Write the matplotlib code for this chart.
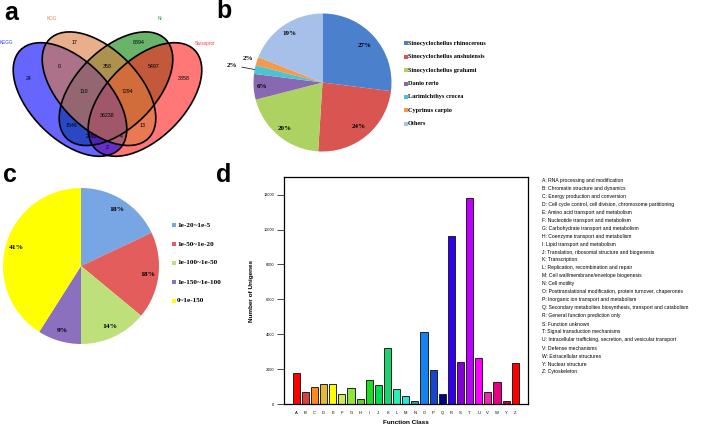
import numpy as np
import matplotlib.pyplot as plt
from matplotlib.patches import Ellipse

W, H = 709, 428

# ---- panel a: Venn of annotation databases
venn_sets = ['KEGG', 'KOG', 'Nr', 'Swissprot']
venn_set_colors = ['#3333ff', '#d98a55', '#2e9a2e', '#ff3333']
venn_fill = ['#0000ff', '#da7b3c', '#078207', '#ff1c1c']
# region membership (KEGG, KOG, Nr, Swissprot) and counts
venn_regions = [(1, 0, 0, 0), (0, 1, 0, 0), (0, 0, 1, 0), (0, 0, 0, 1),
                (1, 1, 0, 0), (0, 1, 1, 0), (0, 0, 1, 1), (1, 1, 1, 0),
                (0, 1, 1, 1), (1, 1, 1, 1), (1, 0, 1, 0), (0, 1, 0, 1),
                (1, 0, 1, 1), (1, 1, 0, 1), (1, 0, 0, 1)]
venn_counts = [24, 17, 8894, 3858, 0, 358, 5497, 110, 7294, 36238, 1546, 13, 2492, 4, 2]

# ---- panel b: species distribution
b_species = ['Sinocyclocheilus rhinocerous', 'Sinocyclocheilus anshuiensis',
             'Sinocyclocheilus grahami', 'Danio rerio', 'Larimichthys crocea',
             'Cyprinus carpio', 'Others']
b_pct = [27, 24, 20, 6, 2, 2, 19]
b_colors = ['#4a80cc', '#d95552', '#aed262', '#8868b0', '#4cc3d3', '#f29a4e', '#a7c0ea']

# ---- panel c: E-value distribution
c_bins = ['1e-20~1e-5', '1e-50~1e-20', '1e-100~1e-50', '1e-150~1e-100', '0~1e-150']
c_pct = [18, 18, 14, 9, 41]
c_colors = ['#78a6e4', '#e25d5b', '#bde07a', '#8a70be', '#ffff00']

# ---- panel d: KOG function classes
cog_classes = list('ABCDEFGHIJKLMNOPQRSTUVWYZ')
cog_counts = [1800, 670, 995, 1130, 1165, 575, 937, 287, 1360, 1072, 3196, 842, 459,
              153, 4114, 1933, 593, 9650, 2411, 11840, 2621, 670, 1282, 153, 2373]
cog_colors = ['#ff0000', '#d94040', '#ff8a1a', '#e6b933', '#ffff00', '#c8f046', '#8ce63c',
              '#5ad232', '#1edc1e', '#00dc50', '#1ed26e', '#28f0b4', '#28e6dc', '#1ea0be',
              '#1482f0', '#1446d2', '#000082', '#3200f0', '#8200d2', '#be00ff', '#ff00ff',
              '#f028aa', '#e60082', '#c8003c', '#ff0000']
cog_desc = ['RNA processing and modification',
            'Chromatin structure and dynamics',
            'Energy production and conversion',
            'Cell cycle control, cell division, chromosome partitioning',
            'Amino acid transport and metabolism',
            'Nucleotide transport and metabolism',
            'Carbohydrate transport and metabolism',
            'Coenzyme transport and metabolism',
            'Lipid transport and metabolism',
            'Translation, ribosomal structure and biogenesis',
            'Transcription',
            'Replication, recombination and repair',
            'Cell wall/membrane/envelope biogenesis',
            'Cell motility',
            'Posttranslational modification, protein turnover, chaperones',
            'Inorganic ion transport and metabolism',
            'Secondary metabolites biosynthesis, transport and catabolism',
            'General function prediction only',
            'Function unknown',
            'Signal transduction mechanisms',
            'Intracellular trafficking, secretion, and vesicular transport',
            'Defense mechanisms',
            'Extracellular structures',
            'Nuclear structure',
            'Cytoskeleton']

SANS = 'Liberation Sans'
SERIF = 'Liberation Serif'

fig = plt.figure(figsize=(W / 100, H / 100), dpi=100)


def box(x0, y0, w, h):
    # axes placed in pixel units, y measured from the top
    return fig.add_axes([x0 / W, 1 - (y0 + h) / H, w / W, h / H])


# ================= a =================
ax_a = box(0, 0, 215, 165)
ax_a.set_xlim(0, 215)
ax_a.set_ylim(165, 0)
ax_a.axis('off')

# ellipse layout (centre x, centre y, angle) per set, in panel pixels
shapes = [(70, 99.5, 45), (99, 88.7, 45), (116, 88.7, -45), (145, 99.5, -45)]
semi_a, semi_b = 70, 39.4
fill_order = [2, 3, 0, 1]
for k in fill_order:
    cx, cy, ang = shapes[k]
    ax_a.add_patch(Ellipse((cx, cy), 2 * semi_a, 2 * semi_b, angle=ang,
                           facecolor=venn_fill[k], alpha=0.6, edgecolor='none'))
for cx, cy, ang in shapes:
    ax_a.add_patch(Ellipse((cx, cy), 2 * semi_a, 2 * semi_b, angle=ang,
                           facecolor='none', edgecolor='black', lw=1.2))

# label anchors for each region (same order as venn_regions)
region_label_xy = [(29, 78), (74, 43), (139, 43), (184, 78), (59, 67), (107, 66),
                   (154, 67), (84, 91), (128, 91), (107, 115), (71, 125), (143, 125),
                   (92, 136), (121, 136), (107, 147)]
for count, (x, y) in zip(venn_counts, region_label_xy):
    ax_a.text(x, y, str(count), ha='center', va='center', fontsize=3.8, family=SANS)

set_label_xy = [(6, 43), (52, 19), (160, 19), (205, 43)]
for name, (x, y), col in zip(venn_sets, set_label_xy, venn_set_colors):
    ax_a.text(x, y, name, ha='center', va='center', fontsize=3.3, color=col, family=SANS)

# ================= b =================
b_cx, b_cy, b_r = 322.5, 82.5, 69
ax_b = box(b_cx - b_r, b_cy - b_r, 2 * b_r, 2 * b_r)
wedges, _ = ax_b.pie(b_pct, colors=b_colors, startangle=90, counterclock=False,
                     wedgeprops=dict(linewidth=0))
ax_b.set_xlim(-1, 1)
ax_b.set_ylim(-1, 1)
b_label_r = [0.81, 0.82, 0.86, 0.88, 1.33, 1.14, 0.85]
for w, pct, rr in zip(wedges, b_pct, b_label_r):
    t = np.deg2rad((w.theta1 + w.theta2) / 2)
    ax_b.text(rr * np.cos(t), rr * np.sin(t), f'{pct}%', ha='center', va='center',
              fontsize=5, fontweight='bold', family=SERIF)
    if rr > 1.2:
        ax_b.plot([1.0 * np.cos(t), (rr - 0.14) * np.cos(t)],
                  [1.0 * np.sin(t), (rr - 0.14) * np.sin(t)],
                  color='black', lw=0.5, clip_on=False)

# ================= c =================
c_cx, c_cy, c_r = 81, 266, 78
ax_c = box(c_cx - c_r, c_cy - c_r, 2 * c_r, 2 * c_r)
wedges_c, _ = ax_c.pie(c_pct, colors=c_colors, startangle=90, counterclock=False,
                       wedgeprops=dict(linewidth=0))
ax_c.set_xlim(-1, 1)
ax_c.set_ylim(-1, 1)
for w, pct in zip(wedges_c, c_pct):
    t = np.deg2rad((w.theta1 + w.theta2) / 2)
    ax_c.text(0.86 * np.cos(t), 0.86 * np.sin(t), f'{pct}%', ha='center', va='center',
              fontsize=5.4, fontweight='bold', family=SERIF)

# ================= d =================
ax_d = box(283.5, 177.3, 528 - 283.5, 404 - 177.3)
xs = np.arange(len(cog_classes))
ax_d.bar(xs, cog_counts, width=0.78, color=cog_colors, edgecolor='#222222', linewidth=0.7)
ax_d.set_xlim(-1.4, len(cog_classes) - 1 + 1.4)
ax_d.set_ylim(0, 13000)
ax_d.set_yticks(np.arange(0, 12001, 2000))
ax_d.set_xticks(xs)
ax_d.set_xticklabels(cog_classes, fontsize=3, family=SANS)
ax_d.tick_params(axis='y', labelsize=2.8, length=5, width=0.5, pad=1.5, direction='out')
ax_d.tick_params(axis='x', length=0, pad=5)
for lab in ax_d.get_yticklabels():
    lab.set_family(SANS)
for sp in ax_d.spines.values():
    sp.set_linewidth(0.9)
ax_d.set_ylabel('Number of Unigenes', fontsize=4.6, fontweight='bold', family=SANS)
ax_d.yaxis.set_label_coords(-0.12, 0.5)
ax_d.set_xlabel('Function Class', fontsize=4.6, fontweight='bold', family=SANS)
ax_d.xaxis.set_label_coords(0.5, -0.072)

# ================= overlay: panel letters and legends =================
ov = fig.add_axes([0, 0, 1, 1], facecolor='none')
ov.set_xlim(0, W)
ov.set_ylim(H, 0)
ov.axis('off')

for letter, (x, y) in zip('abcd', [(4, 20), (216, 18), (3, 182), (216, 182)]):
    ov.text(x, y, letter, fontsize=18, fontweight='bold', family=SANS, va='baseline')

for i, (name, col) in enumerate(zip(b_species, b_colors)):
    y = 43.3 + i * 13.4
    ov.scatter([405.5], [y], marker='s', s=6, color=col, linewidths=0)
    ov.text(408, y, name, fontsize=4.5, fontweight='bold', family=SERIF, va='center')

for i, (name, col) in enumerate(zip(c_bins, c_colors)):
    y = 225 + i * 19
    ov.scatter([174], [y], marker='s', s=7, color=col, linewidths=0)
    ov.text(177, y, name, fontsize=5.2, fontweight='bold', family=SERIF, va='center')

for i, (cls, desc) in enumerate(zip(cog_classes, cog_desc)):
    ov.text(541.7, 180 + i * 8.0, f'{cls}: {desc}', fontsize=3.6, family=SANS, va='center')

fig.savefig('out.png', dpi=100)
